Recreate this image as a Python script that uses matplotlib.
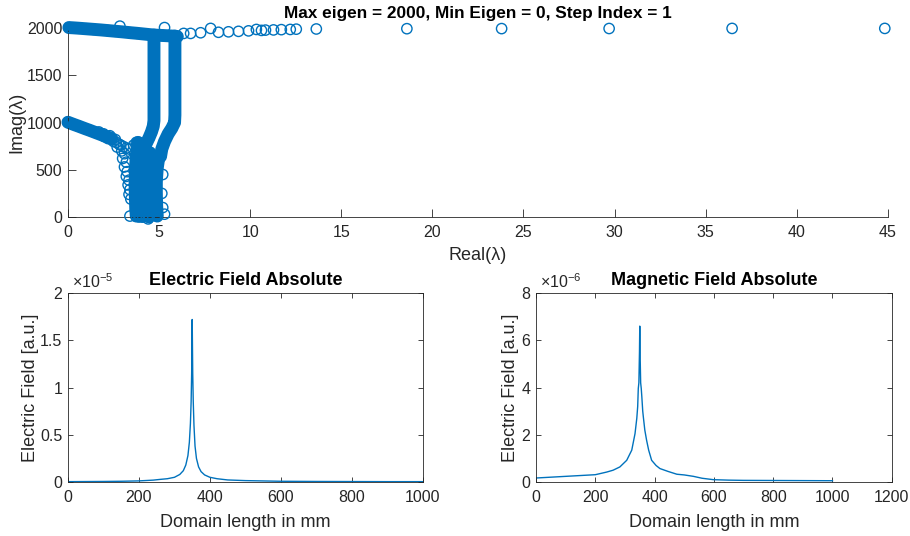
import matplotlib
matplotlib.use("Agg")
import matplotlib.pyplot as plt

plt.rcParams['font.family'] = ['Liberation Sans', 'DejaVu Sans']
plt.rcParams['mathtext.fontset'] = 'custom'
plt.rcParams['mathtext.rm'] = 'Liberation Sans'

blue = '#0072BD'
dark = '#262626'

# ---------- eigenvalue map (Real, Imag) ----------
# dense tracks
top_re = [0.05, 0.3, 0.6, 1.0, 1.4, 1.8, 2.2, 2.6, 3.0, 3.4, 3.8, 4.2, 4.6, 4.9, 5.2, 5.5, 5.8, 6.0]
top_im = [2005, 2002, 1998, 1992, 1986, 1980, 1973, 1966, 1959, 1951, 1944, 1936, 1928, 1924, 1921, 1918, 1914, 1910]

col1_re = [4.72, 4.72, 4.72, 4.72, 4.72, 4.72, 4.72, 4.72, 4.68, 4.58, 4.45, 4.3, 4.15, 4.05]
col1_im = [1925, 1800, 1650, 1500, 1350, 1200, 1100, 1020, 960, 900, 840, 780, 720, 660]

col2_re = [5.87, 5.87, 5.87, 5.87, 5.87, 5.87, 5.87, 5.85, 5.7, 5.5, 5.3, 5.15, 5.08]
col2_im = [1915, 1800, 1650, 1500, 1350, 1200, 1080, 1000, 940, 880, 800, 720, 640]

diag_re = [0.0, 0.3, 0.6, 0.9, 1.2, 1.5, 1.8, 2.1, 2.4]
diag_im = [1003, 981, 960, 938, 917, 895, 873, 852, 830]

mass1_re = [3.85, 3.75, 3.7, 3.68, 3.7, 3.72, 3.75]
mass1_im = [790, 650, 500, 350, 200, 80, 10]
mass2_re = [4.15, 4.1, 4.08, 4.05, 4.08, 4.1]
mass2_im = [720, 560, 420, 280, 140, 5]
mass3_re = [4.5, 4.45, 4.42, 4.4, 4.42, 4.45]
mass3_im = [680, 540, 400, 260, 120, 0]
mass4_re = [5.0, 4.9, 4.85, 4.85, 4.87, 4.9]
mass4_im = [650, 520, 380, 240, 110, 10]

# loose circles
loose_re = [2.0, 2.2, 2.35, 2.5, 2.65, 2.8, 2.9, 3.05, 3.2, 3.35, 2.7, 2.95, 3.1, 3.0, 3.2,
            3.1, 3.25, 3.2, 3.35, 3.3, 3.4, 3.35, 3.45, 3.6, 3.75, 3.4, 5.3, 4.4, 3.9,
            2.85, 5.3, 5.2, 5.15, 5.2, 1.7, 1.95, 2.3, 2.6]
loose_im = [850, 830, 825, 800, 790, 770, 760, 745, 730, 720, 740, 700, 670, 620, 580,
            530, 480, 430, 390, 340, 290, 240, 190, 760, 790, 10, 30, -20, 0,
            2020, 2005, 450, 250, 100, 900, 880, 860, 820]

tail_re = [6.35, 6.73, 7.28, 7.83, 8.26, 8.81, 9.36, 9.91, 10.34, 10.62, 10.84, 11.28, 11.71,
           12.2, 12.53, 13.63, 18.6, 23.8, 29.7, 36.45, 44.83]
tail_im = [1943, 1943, 1950, 1996, 1955, 1960, 1965, 1970, 1985, 1975, 1978, 1980, 1983,
           1985, 1988, 1990, 1993, 1994, 1995, 1996, 1996]

# ---------- field profiles ----------
e_x = [0, 50, 100, 150, 200, 240, 260, 280, 300, 315, 325, 332, 338, 342, 345, 347, 348.5,
       350, 351.5, 353, 355, 358, 362, 368, 375, 385, 400, 420, 450, 500, 600, 700, 800, 900, 1000]
e_y = [0.004, 0.005, 0.006, 0.008, 0.012, 0.02, 0.028, 0.035, 0.05, 0.08, 0.12, 0.18, 0.28,
       0.42, 0.62, 0.85, 1.15, 1.72, 1.15, 0.85, 0.6, 0.38, 0.25, 0.16, 0.11, 0.075, 0.05,
       0.035, 0.022, 0.015, 0.008, 0.006, 0.005, 0.004, 0.004]   # x 1e-5

m_x = [0, 100, 200, 238, 260, 283, 306, 323, 334, 340, 343, 345, 347, 349, 350, 351, 353,
       355, 357, 360, 362, 367, 373, 380, 390, 405, 418, 445, 475, 500, 531, 560, 598, 650,
       700, 800, 900, 1000]
m_y = [0.17, 0.24, 0.31, 0.42, 0.5, 0.64, 0.92, 1.35, 2.05, 2.7, 3.2, 3.96, 4.2, 5.5, 6.6,
       5.5, 4.2, 3.96, 3.6, 3.0, 2.76, 2.2, 1.77, 1.35, 0.92, 0.7, 0.57, 0.45, 0.33, 0.3,
       0.24, 0.16, 0.1, 0.08, 0.07, 0.065, 0.06, 0.055]   # x 1e-6

TICK = 11.5
LABEL = 13


def style_axes(ax, ticklen, box):
    for side in ['left', 'bottom', 'top', 'right']:
        ax.spines[side].set_color(dark)
        ax.spines[side].set_linewidth(0.6)
    if not box:
        ax.spines['top'].set_visible(False)
        ax.spines['right'].set_visible(False)
    ax.tick_params(direction='in', length=ticklen, width=0.6, color=dark,
                   labelcolor=dark, labelsize=TICK, top=box, right=box)
    ax.tick_params(axis='x', pad=6)
    ax.tick_params(axis='y', pad=4)


fig = plt.figure(figsize=(9.1, 5.36), dpi=100)

# top: eigenvalues
ax = fig.add_axes([0.0747, 0.5951, 0.901, 0.3526])
msize = 55
for re, im in [(top_re, top_im), (col1_re, col1_im), (col2_re, col2_im), (diag_re, diag_im),
               (mass1_re, mass1_im), (mass2_re, mass2_im), (mass3_re, mass3_im), (mass4_re, mass4_im)]:
    ax.plot(re, im, color=blue, lw=9.3, solid_capstyle='round', solid_joinstyle='round',
            clip_on=False, zorder=2)
    ax.scatter(re, im, s=msize, facecolors='none', edgecolors=blue, linewidths=1.0,
               clip_on=False, zorder=3)
ax.scatter(loose_re, loose_im, s=msize, facecolors='none', edgecolors=blue, linewidths=1.0,
           clip_on=False, zorder=3)
ax.scatter(tail_re, tail_im, s=msize, facecolors='none', edgecolors=blue, linewidths=1.0,
           clip_on=False, zorder=3)
ax.set_xlim(0, 45)
ax.set_ylim(0, 2000)
ax.set_xticks(range(0, 46, 5))
ax.set_yticks(range(0, 2001, 500))
style_axes(ax, 6, False)
ax.set_xlabel('Real(λ)', fontsize=LABEL, color=dark, labelpad=5)
ax.set_ylabel('Imag(λ)', fontsize=LABEL, color=dark, labelpad=1)
ax.set_title('Max eigen = 2000, Min Eigen = 0, Step Index = 1', fontsize=12.4,
             fontweight='bold', pad=7)

# bottom left: electric field
ax1 = fig.add_axes([0.0747, 0.1007, 0.390, 0.3526])
ax1.plot(e_x, e_y, color=blue, lw=1.0)
ax1.set_xlim(0, 1000)
ax1.set_ylim(0, 2)
ax1.set_xticks(range(0, 1001, 200))
ax1.set_yticks([0, 0.5, 1, 1.5, 2])
ax1.set_yticklabels(['0', '0.5', '1', '1.5', '2'])
style_axes(ax1, 3.6, True)
ax1.set_xlabel('Domain length in mm', fontsize=LABEL, color=dark, labelpad=6)
ax1.set_ylabel('Electric Field [a.u.]', fontsize=LABEL, color=dark, labelpad=1)
ax1.set_title('Electric Field Absolute', fontsize=13, fontweight='bold', pad=6)
ax1.text(0.01, 1.01, '×10$^{-5}$', transform=ax1.transAxes, fontsize=TICK, color=dark,
         ha='left', va='bottom')

# bottom right: magnetic field
ax2 = fig.add_axes([0.589, 0.1007, 0.391, 0.3526])
ax2.plot(m_x, m_y, color=blue, lw=1.0)
ax2.set_xlim(0, 1200)
ax2.set_ylim(0, 8)
ax2.set_xticks(range(0, 1201, 200))
ax2.set_yticks(range(0, 9, 2))
style_axes(ax2, 3.6, True)
ax2.set_xlabel('Domain length in mm', fontsize=LABEL, color=dark, labelpad=6)
ax2.set_ylabel('Electric Field [a.u.]', fontsize=LABEL, color=dark, labelpad=2)
ax2.set_title('Magnetic Field Absolute', fontsize=13, fontweight='bold', pad=6)
ax2.text(0.01, 1.01, '×10$^{-6}$', transform=ax2.transAxes, fontsize=TICK, color=dark,
         ha='left', va='bottom')

fig.savefig('out.png', dpi=100)
